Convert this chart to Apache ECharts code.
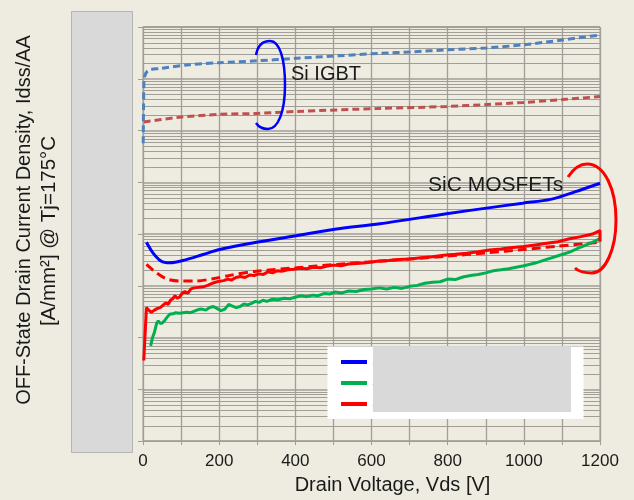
<!DOCTYPE html>
<html><head><meta charset="utf-8">
<script src="https://cdn.jsdelivr.net/npm/echarts@6/dist/echarts.min.js"></script>
<style>html,body{margin:0;padding:0;background:#eeece1;}#c{width:634px;height:500px;}</style>
</head><body><div id="c"></div>
<script>
// ---- data ----
const xTicks = [0, 200, 400, 600, 800, 1000, 1200];
const decades = [1e-10, 1e-9, 1e-8, 1e-7, 1e-6, 1e-5, 1e-4, 1e-3];
const minorMantissas = [2, 3, 4, 5, 6, 7, 8, 9];

// Si IGBT (upper, blue dashed)
const igbtAV = [0.5, 1.5, 3, 13, 44, 123, 201, 299, 404, 509, 622, 708, 798, 903, 997, 1102, 1200];
const igbtAI = [5.7e-5, 3.0e-4, 1.0e-3, 1.43e-3, 1.58e-3, 1.87e-3, 2.04e-3, 2.22e-3, 2.48e-3, 2.77e-3, 3.10e-3, 3.31e-3, 3.62e-3, 3.95e-3, 4.52e-3, 5.62e-3, 7.01e-3];
// Si IGBT (lower, red dashed)
const igbtBV = [2, 101, 201, 299, 404, 622, 798, 903, 997, 1102, 1200];
const igbtBI = [1.46e-4, 1.82e-4, 2.05e-4, 2.14e-4, 2.34e-4, 2.67e-4, 2.91e-4, 3.18e-4, 3.48e-4, 3.97e-4, 4.53e-4];
// SiC MOSFET blue solid
const sicAV = [9, 26, 48, 70, 105, 158, 201, 298, 403, 508, 622, 797, 902, 997, 1070, 1134, 1200];
const sicAI = [6.93e-7, 4.34e-7, 2.99e-7, 2.79e-7, 3.08e-7, 4.03e-7, 5.02e-7, 6.93e-7, 9.31e-7, 1.25e-6, 1.58e-6, 2.47e-6, 3.17e-6, 3.95e-6, 4.68e-6, 6.52e-6, 9.57e-6];
// SiC MOSFET red dashed
const sicDV = [9, 35, 61, 96, 140, 184, 228, 298, 403, 508, 622, 797, 902, 998, 1086, 1200];
const sicDI = [2.59e-7, 1.79e-7, 1.37e-7, 1.24e-7, 1.24e-7, 1.37e-7, 1.59e-7, 1.92e-7, 2.23e-7, 2.59e-7, 2.99e-7, 3.73e-7, 4.34e-7, 5.02e-7, 5.81e-7, 6.93e-7];
// SiC MOSFET green solid
const sicBV = [20, 25, 30, 36, 40, 46, 52, 58, 64, 70, 78, 86, 95, 105, 115, 125, 135, 145, 155, 165, 175, 185, 195, 205, 215, 225, 235, 245, 255, 265, 275, 285, 295, 305, 315, 325, 340, 355, 370, 385, 400, 415, 430, 445, 460, 475, 490, 505, 520, 540, 560, 580, 600, 620, 640, 660, 680, 700, 720, 740, 760, 780, 800, 820, 840, 860, 880, 900, 920, 940, 960, 980, 1000, 1030, 1060, 1090, 1120, 1150, 1180, 1200];
const sicBI = [6.92e-9, 1.00e-8, 1.26e-8, 1.91e-8, 2.09e-8, 1.86e-8, 1.95e-8, 2.19e-8, 2.51e-8, 2.82e-8, 2.88e-8, 3.02e-8, 2.95e-8, 3.02e-8, 3.09e-8, 3.02e-8, 3.24e-8, 3.47e-8, 3.55e-8, 3.39e-8, 3.80e-8, 3.98e-8, 3.63e-8, 3.31e-8, 3.55e-8, 4.37e-8, 4.07e-8, 3.80e-8, 3.98e-8, 4.47e-8, 4.27e-8, 4.57e-8, 5.01e-8, 4.79e-8, 5.25e-8, 5.01e-8, 5.50e-8, 5.37e-8, 5.75e-8, 5.62e-8, 6.03e-8, 6.46e-8, 6.17e-8, 6.61e-8, 6.46e-8, 7.08e-8, 6.92e-8, 7.59e-8, 7.24e-8, 7.94e-8, 7.76e-8, 8.51e-8, 8.71e-8, 9.12e-8, 8.71e-8, 9.33e-8, 8.91e-8, 9.77e-8, 1.02e-7, 1.12e-7, 1.17e-7, 1.20e-7, 1.35e-7, 1.32e-7, 1.48e-7, 1.58e-7, 1.66e-7, 1.78e-7, 1.95e-7, 2.04e-7, 2.14e-7, 2.29e-7, 2.45e-7, 2.75e-7, 3.24e-7, 3.80e-7, 4.47e-7, 5.62e-7, 6.92e-7, 8.13e-7];
// SiC MOSFET red solid
const sicCV = [2, 9, 15, 22, 30, 37, 45, 52, 60, 66, 72, 78, 84, 90, 96, 103, 110, 118, 126, 134, 145, 158, 170, 180, 190, 201, 212, 222, 232, 244, 256, 268, 280, 292, 304, 316, 328, 340, 352, 364, 380, 396, 412, 430, 448, 466, 484, 502, 520, 540, 560, 580, 600, 620, 645, 670, 700, 730, 760, 790, 820, 850, 880, 910, 940, 970, 1000, 1030, 1060, 1090, 1120, 1150, 1180, 1200, 1200];
const sicCI = [3.61e-9, 3.80e-8, 3.39e-8, 3.09e-8, 3.39e-8, 3.63e-8, 3.80e-8, 4.17e-8, 4.68e-8, 4.37e-8, 5.25e-8, 5.62e-8, 6.46e-8, 5.75e-8, 6.03e-8, 7.24e-8, 7.76e-8, 7.24e-8, 8.71e-8, 9.12e-8, 9.33e-8, 9.55e-8, 1.02e-7, 1.10e-7, 1.17e-7, 1.23e-7, 1.26e-7, 1.35e-7, 1.29e-7, 1.45e-7, 1.51e-7, 1.45e-7, 1.62e-7, 1.58e-7, 1.70e-7, 1.66e-7, 1.86e-7, 1.78e-7, 1.95e-7, 1.91e-7, 2.04e-7, 2.09e-7, 2.19e-7, 2.14e-7, 2.29e-7, 2.24e-7, 2.40e-7, 2.51e-7, 2.45e-7, 2.63e-7, 2.69e-7, 2.75e-7, 2.88e-7, 3.02e-7, 3.09e-7, 3.24e-7, 3.31e-7, 3.47e-7, 3.63e-7, 3.89e-7, 4.07e-7, 4.27e-7, 4.57e-7, 4.90e-7, 5.13e-7, 5.50e-7, 5.75e-7, 6.17e-7, 6.61e-7, 7.08e-7, 8.13e-7, 8.91e-7, 1.00e-6, 1.17e-6, 7.08e-7];

const legendNames = ['SiC MOSFET A', 'SiC MOSFET B', 'SiC MOSFET C'];

// ---- build ----
function zip(xs, ys) { return xs.map((x, i) => [x, ys[i]]); }
const minorGrid = [];
decades.forEach(d => minorMantissas.forEach(m => minorGrid.push([0, m * d, 1200])));

const GRID = '#a09e96';
const TXT = '#1a1a1a';
const FONT = '"Liberation Sans", Arial, sans-serif';

function curve(p, color, w) {
  return { type: 'bezierCurve', z: 10,
    shape: { x1: p[0], y1: p[1], cpx1: p[2], cpy1: p[3], cpx2: p[4], cpy2: p[5], x2: p[6], y2: p[7] },
    style: { fill: null, stroke: color, lineWidth: w } };
}

const chart = echarts.init(document.getElementById('c'), null, { renderer: 'canvas' });
chart.setOption({
  animation: false,
  backgroundColor: '#eeece1',
  grid: { left: 143, right: 34, top: 27, bottom: 55, show: true, borderColor: GRID, borderWidth: 1, backgroundColor: 'transparent' },
  xAxis: {
    type: 'value', min: 0, max: 1200, interval: 100,
    axisLine: { show: true, lineStyle: { color: GRID, width: 1 } },
    axisTick: { show: true, length: 4, lineStyle: { color: GRID } },
    splitLine: { show: true, lineStyle: { color: GRID, width: 1.3 } },
    axisLabel: { color: TXT, fontSize: 17, fontFamily: FONT, margin: 12,
      formatter: v => xTicks.indexOf(v) >= 0 ? String(v) : '' },
    name: 'Drain Voltage, Vds [V]', nameLocation: 'middle', nameGap: 31,
    nameTextStyle: { color: TXT, fontSize: 20, fontFamily: FONT, padding: [0, 0, 0, 42] }
  },
  yAxis: {
    type: 'log', logBase: 10, min: 1e-10, max: 1e-2, splitNumber: 8,
    axisLine: { show: true, lineStyle: { color: GRID, width: 1 } },
    axisTick: { show: true, length: 5, lineStyle: { color: GRID } },
    splitLine: { show: true, lineStyle: { color: GRID, width: 1.5 } },
    axisLabel: { show: false }
  },
  legend: {
    data: legendNames, orient: 'vertical', left: 341, top: 353, padding: 0,
    icon: 'rect', itemWidth: 26, itemHeight: 4, itemGap: 3,
    textStyle: { fontSize: 14, lineHeight: 18, color: TXT, fontFamily: FONT }, z: 5
  },
  series: [
    { type: 'custom', name: 'grid-minor', data: minorGrid, silent: true, z: 1,
      encode: { x: 0, y: 1 }, tooltip: { show: false },
      renderItem: function (params, api) {
        const a = api.coord([api.value(0), api.value(1)]);
        const b = api.coord([api.value(2), api.value(1)]);
        return { type: 'line', shape: { x1: a[0], y1: Math.round(a[1]) + 0.5, x2: b[0], y2: Math.round(a[1]) + 0.5 },
          style: { stroke: GRID, lineWidth: 1 } };
      } },
    { type: 'line', name: 'Si IGBT A', data: zip(igbtAV, igbtAI), showSymbol: false, symbol: 'none', smooth: 0.3,
      lineStyle: { color: '#4f81bd', width: 3, type: [7, 4] }, itemStyle: { color: '#4f81bd' }, z: 3 },
    { type: 'line', name: 'Si IGBT B', data: zip(igbtBV, igbtBI), showSymbol: false, symbol: 'none', smooth: 0.3,
      lineStyle: { color: '#c0504d', width: 3, type: [7, 4] }, itemStyle: { color: '#c0504d' }, z: 3 },
    { type: 'line', name: 'SiC dashed', data: zip(sicDV, sicDI), showSymbol: false, symbol: 'none', smooth: 0.3,
      lineStyle: { color: '#ff0000', width: 3, type: [9, 5] }, itemStyle: { color: '#ff0000' }, z: 3 },
    { type: 'line', name: legendNames[1], data: zip(sicBV, sicBI), showSymbol: false, symbol: 'none',
      lineStyle: { color: '#00b050', width: 3 }, itemStyle: { color: '#00b050' }, z: 3 },
    { type: 'line', name: legendNames[2], data: zip(sicCV, sicCI), showSymbol: false, symbol: 'none',
      lineStyle: { color: '#ff0000', width: 3 }, itemStyle: { color: '#ff0000' }, z: 3 },
    { type: 'line', name: legendNames[0], data: zip(sicAV, sicAI), showSymbol: false, symbol: 'none', smooth: 0.3,
      lineStyle: { color: '#0000ff', width: 3 }, itemStyle: { color: '#0000ff' }, z: 3 }
  ],
  graphic: { elements: [
    { type: 'rect', z: 3, shape: { x: 327.5, y: 346.5, width: 256, height: 72.5 }, style: { fill: '#ffffff' } },
    { type: 'rect', z: 10, shape: { x: 373, y: 346.5, width: 198, height: 65.5 }, style: { fill: '#d9d9d9' } },
    { type: 'rect', z: 10, shape: { x: 71.5, y: 11.5, width: 61, height: 441 }, style: { fill: '#d9d9d9', stroke: '#b4b4b4', lineWidth: 1 } },
    { type: 'text', z: 10, x: 24, y: 220, rotation: Math.PI / 2,
      style: { text: 'OFF-State Drain Current Density, Idss/AA', fill: TXT, font: '20px ' + FONT, align: 'center', verticalAlign: 'middle' } },
    { type: 'text', z: 10, x: 49, y: 231, rotation: Math.PI / 2,
      style: { text: '[A/mm²] @ Tj=175°C', fill: TXT, font: '20.5px ' + FONT, align: 'center', verticalAlign: 'middle' } },
    { type: 'text', z: 10, x: 291, y: 74,
      style: { text: 'Si IGBT', fill: TXT, font: '20px ' + FONT, align: 'left', verticalAlign: 'middle' } },
    { type: 'text', z: 10, x: 428, y: 185,
      style: { text: 'SiC MOSFETs', fill: TXT, font: '21px ' + FONT, align: 'left', verticalAlign: 'middle' } },
    curve([256,55, 258,44, 264,41, 270,41], '#0000ff', 2.5),
    curve([270,41, 280,41, 285,60, 285,85], '#0000ff', 2.5),
    curve([285,85, 285,112, 278,129, 268,129], '#0000ff', 2.5),
    curve([268,129, 262,129, 258,126, 256,123], '#0000ff', 2.5),
    curve([568,177, 574,168, 580,164, 587,164], '#ff0000', 3),
    curve([587,164, 605,164, 616,190, 616,220], '#ff0000', 3),
    curve([616,220, 616,250, 605,273, 592,273], '#ff0000', 3),
    curve([592,273, 584,273, 578,271, 575,268], '#ff0000', 3)
  ] }
});
</script></body></html>
